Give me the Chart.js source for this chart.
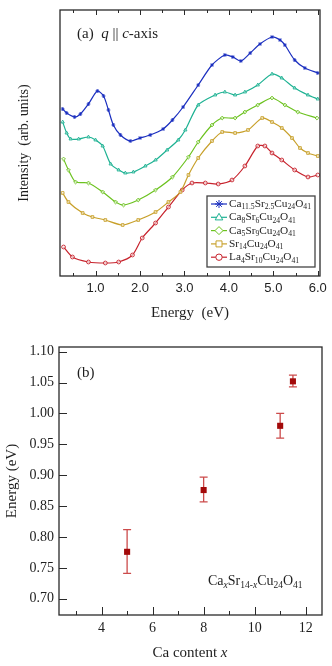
<!DOCTYPE html>
<html>
<head>
<meta charset="utf-8">
<script src="https://cdn.jsdelivr.net/npm/chart.js@4.4.0/dist/chart.umd.min.js"></script>
<style>
  html, body { margin: 0; padding: 0; background: #fff; }
  #wrapA { position: absolute; left: 0; top: 0; width: 332px; height: 330px; }
  #wrapB { position: absolute; left: 0; top: 330px; width: 332px; height: 336px; }
</style>
</head>
<body>
<div id="wrapA"><canvas id="chartA" width="332" height="330"></canvas></div>
<div id="wrapB"><canvas id="chartB" width="332" height="336"></canvas></div>
<script>
// ---- panel (a): spectra, q || c-axis ----
const energyCa115    = [0.26,0.35,0.53,0.66,0.84,1.04,1.18,1.29,1.40,1.56,1.78,2.00,2.23,2.52,2.73,2.97,3.31,3.62,3.91,4.09,4.27,4.48,4.70,4.97,5.15,5.26,5.48,5.71,6.00];
const intensityCa115 = [1.67,1.63,1.59,1.62,1.72,1.85,1.80,1.66,1.51,1.41,1.35,1.38,1.41,1.47,1.56,1.69,1.91,2.11,2.21,2.19,2.15,2.23,2.32,2.39,2.36,2.31,2.16,2.08,2.03];

const energyCa8    = [0.26,0.35,0.44,0.62,0.84,1.00,1.16,1.34,1.52,1.67,1.85,2.12,2.35,2.61,2.86,3.02,3.31,3.69,3.91,4.14,4.36,4.65,4.97,5.19,5.48,5.78,6.00];
const intensityCa8 = [1.54,1.43,1.37,1.37,1.39,1.36,1.30,1.12,1.06,1.03,1.04,1.10,1.16,1.26,1.36,1.46,1.71,1.81,1.84,1.81,1.84,1.91,2.02,1.98,1.88,1.81,1.77];

const energyCa5    = [0.28,0.39,0.55,0.84,1.16,1.45,1.63,1.96,2.35,2.73,3.09,3.31,3.62,3.85,4.14,4.36,4.65,4.97,5.26,5.55,5.98];
const intensityCa5 = [1.17,1.06,0.94,0.93,0.84,0.74,0.71,0.76,0.86,0.99,1.19,1.34,1.51,1.58,1.58,1.64,1.71,1.78,1.71,1.64,1.58];

const energySr14    = [0.26,0.39,0.71,0.93,1.22,1.61,1.96,2.35,2.64,2.91,3.09,3.31,3.62,3.85,4.14,4.43,4.75,4.97,5.19,5.42,5.60,5.78,6.00];
const intensitySr14 = [0.83,0.74,0.63,0.59,0.56,0.51,0.56,0.64,0.74,0.84,1.01,1.18,1.35,1.44,1.43,1.46,1.58,1.54,1.48,1.38,1.28,1.23,1.20];

const energyLa4    = [0.28,0.48,0.84,1.22,1.52,1.83,2.05,2.35,2.64,2.95,3.17,3.47,3.76,4.07,4.36,4.65,4.81,4.97,5.19,5.48,5.78,6.00];
const intensityLa4 = [0.29,0.19,0.14,0.13,0.14,0.21,0.38,0.53,0.69,0.86,0.93,0.93,0.92,0.96,1.10,1.30,1.30,1.23,1.16,1.06,0.99,1.01];

const seriesLabels  = ['Ca_{11.5}Sr_{2.5}Cu_{24}O_{41}', 'Ca_{8}Sr_{6}Cu_{24}O_{41}', 'Ca_{5}Sr_{9}Cu_{24}O_{41}', 'Sr_{14}Cu_{24}O_{41}', 'La_{4}Sr_{10}Cu_{24}O_{41}'];
const seriesColors  = ['#1b2fbf', '#1eb293', '#6cc21f', '#c8a02a', '#c7232d'];
const seriesMarkers = ['star', 'triangle', 'rectRot', 'rect', 'circle'];

const energyTicks      = [1, 2, 3, 4, 5, 6];
const energyMinorTicks = [0.5, 1.5, 2.5, 3.5, 4.5, 5.5];

// ---- panel (b): peak energy vs Ca content ----
const caContent   = [5, 8, 11, 11.5];
const peakEnergy  = [0.776, 0.876, 0.980, 1.052];
const peakErrLow  = [0.741, 0.857, 0.960, 1.043];
const peakErrHigh = [0.812, 0.897, 1.000, 1.062];

const caTicks      = [4, 6, 8, 10, 12];
const caMinorTicks = [3, 5, 7, 9, 11];
const peakTicks    = [0.70, 0.75, 0.80, 0.85, 0.90, 0.95, 1.00, 1.05, 1.10];

const SERIF = "'Liberation Serif', 'DejaVu Serif', serif";
const SANS = "'Liberation Sans', Arial, sans-serif";
const INK = '#1e1e1e';

function partFont(st, size) {
    const sub = st.indexOf('s') >= 0;
    const it = st.indexOf('i') >= 0;
    return (it ? 'italic ' : '') + (sub ? size * 0.68 : size) + 'px ' + SERIF;
}

// rich text: parts = [[text, style]], style has 'i' for italic, 's' for subscript
function drawRich(ctx, x, y, parts, size, center) {
    ctx.textBaseline = 'middle';
    ctx.textAlign = 'left';
    ctx.fillStyle = INK;
    if (center) {
        let w = 0;
        parts.forEach(([t, st]) => { ctx.font = partFont(st, size); w += ctx.measureText(t).width; });
        x -= w / 2;
    }
    parts.forEach(([t, st]) => {
        ctx.font = partFont(st, size);
        ctx.fillText(t, x, y + (st.indexOf('s') >= 0 ? size * 0.3 : 0));
        x += ctx.measureText(t).width;
    });
    return x;
}

function parseFormula(str) {
    return str.split(/(_\{[^}]*\})/).filter(s => s.length).map(s =>
        s.startsWith('_{') ? [s.slice(2, -1), 's'] : [s, '']);
}

function drawMarker(ctx, style, x, y, r) {
    ctx.beginPath();
    if (style === 'star') {
        for (let k = 0; k < 4; k++) {
            const a = k * Math.PI / 4;
            ctx.moveTo(x - r * Math.cos(a), y - r * Math.sin(a));
            ctx.lineTo(x + r * Math.cos(a), y + r * Math.sin(a));
        }
        ctx.stroke();
        return;
    }
    if (style === 'triangle') {
        ctx.moveTo(x, y - r); ctx.lineTo(x + r * 0.95, y + r * 0.65); ctx.lineTo(x - r * 0.95, y + r * 0.65); ctx.closePath();
    } else if (style === 'rectRot') {
        ctx.moveTo(x, y - r); ctx.lineTo(x + r, y); ctx.lineTo(x, y + r); ctx.lineTo(x - r, y); ctx.closePath();
    } else if (style === 'rect') {
        const s = r * 0.75; ctx.rect(x - s, y - s, 2 * s, 2 * s);
    } else {
        ctx.arc(x, y, r * 0.8, 0, Math.PI * 2);
    }
    ctx.fill();
    ctx.stroke();
}

// frame round the plot area plus inward tick marks
const frameTicks = {
    id: 'frameTicks',
    afterDraw(chart, args, opts) {
        const { ctx, chartArea: a, scales } = chart;
        ctx.save();
        ctx.strokeStyle = '#2a2a2a';
        ctx.lineWidth = 1.3;
        ctx.strokeRect(a.left, a.top, a.right - a.left, a.bottom - a.top);
        ctx.lineWidth = 1;
        ctx.beginPath();
        const xTick = (vals, len) => vals.forEach(v => {
            const px = Math.round(scales.x.getPixelForValue(v)) + 0.5;
            ctx.moveTo(px, a.bottom); ctx.lineTo(px, a.bottom - len);
            if (opts.top) { ctx.moveTo(px, a.top); ctx.lineTo(px, a.top + len); }
        });
        xTick(opts.xMajor || [], opts.majorLen);
        xTick(opts.xMinor || [], opts.minorLen);
        (opts.yMajor || []).forEach(v => {
            const py = Math.round(scales.y.getPixelForValue(v)) + 0.5;
            ctx.moveTo(a.left, py); ctx.lineTo(a.left + opts.majorLen, py);
        });
        ctx.stroke();
        ctx.restore();
    }
};

// boxed legend with subscripted formulas (panel a)
const legendBox = {
    id: 'legendBox',
    afterDraw(chart, args, opts) {
        if (!opts.show) return;
        const { ctx } = chart;
        ctx.save();
        ctx.fillStyle = '#fff';
        ctx.fillRect(opts.x, opts.y, opts.w, opts.h);
        ctx.strokeStyle = '#444';
        ctx.lineWidth = 1.3;
        ctx.strokeRect(opts.x, opts.y, opts.w, opts.h);
        chart.data.datasets.forEach((ds, i) => {
            const y = opts.y + 8 + i * opts.row;
            ctx.strokeStyle = ds.borderColor;
            ctx.lineWidth = 1.2;
            ctx.beginPath();
            ctx.moveTo(opts.x + 4, y); ctx.lineTo(opts.x + 20, y);
            ctx.stroke();
            ctx.fillStyle = '#fff';
            ctx.lineWidth = 1;
            drawMarker(ctx, ds.pointStyle, opts.x + 12, y, 4);
            drawRich(ctx, opts.x + 22, y, parseFormula(ds.label), 11.3);
        });
        ctx.restore();
    }
};

// panel labels, formula annotations and rich axis titles
const textMarks = {
    id: 'textMarks',
    afterDraw(chart, args, opts) {
        const { ctx } = chart;
        ctx.save();
        (opts.items || []).forEach(it => drawRich(ctx, it.x, it.y, it.parts, it.size, it.center));
        ctx.restore();
    }
};

// error bars drawn through the scales (panel b)
const errorBars = {
    id: 'errorBars',
    beforeDatasetsDraw(chart, args, opts) {
        if (!opts.low) return;
        const { ctx, scales } = chart;
        ctx.save();
        ctx.strokeStyle = opts.color;
        ctx.lineWidth = 1.3;
        ctx.beginPath();
        opts.xs.forEach((xv, i) => {
            const px = scales.x.getPixelForValue(xv);
            const lo = scales.y.getPixelForValue(opts.low[i]);
            const hi = scales.y.getPixelForValue(opts.high[i]);
            ctx.moveTo(px, lo); ctx.lineTo(px, hi);
            ctx.moveTo(px - opts.cap, lo); ctx.lineTo(px + opts.cap, lo);
            ctx.moveTo(px - opts.cap, hi); ctx.lineTo(px + opts.cap, hi);
        });
        ctx.stroke();
        ctx.restore();
    }
};

const spectra = [
    [energyCa115, intensityCa115],
    [energyCa8, intensityCa8],
    [energyCa5, intensityCa5],
    [energySr14, intensitySr14],
    [energyLa4, intensityLa4]
];

new Chart(document.getElementById('chartA'), {
    type: 'line',
    data: {
        datasets: spectra.map((s, i) => ({
            label: seriesLabels[i],
            data: s[0].map((e, k) => ({ x: e, y: s[1][k] })),
            borderColor: seriesColors[i],
            borderWidth: 1.2,
            pointStyle: seriesMarkers[i],
            pointRadius: 1.9,
            pointBorderWidth: 0.9,
            pointBorderColor: seriesColors[i],
            pointBackgroundColor: 'rgba(255,255,255,0.55)',
            tension: 0.25
        }))
    },
    options: {
        responsive: false,
        animation: false,
        layout: { padding: { top: 10, right: 12, left: 0, bottom: 0 } },
        plugins: {
            legend: { display: false },
            tooltip: { enabled: false },
            frameTicks: { xMajor: energyTicks, xMinor: energyMinorTicks, majorLen: 5, minorLen: 3, top: true },
            legendBox: { show: true, x: 207, y: 196, w: 108, h: 71, row: 13.3 },
            textMarks: {
                items: [
                    { x: 77, y: 34, size: 15, parts: [['(a)', ''], ['  ', ''], ['q', 'i'], [' || ', ''], ['c', 'i'], ['-axis', '']] }
                ]
            }
        },
        scales: {
            x: {
                type: 'linear', min: 0.2, max: 6.05,
                afterBuildTicks: s => { s.ticks = energyTicks.map(v => ({ value: v })); },
                afterFit: s => { s.height = 54; },
                grid: { display: false, drawTicks: false },
                border: { display: false },
                ticks: { padding: 5, color: INK, font: { family: SANS, size: 13 }, callback: v => v.toFixed(1) },
                title: { display: true, text: 'Energy  (eV)', color: INK, font: { family: SERIF, size: 15 }, padding: { top: 0, bottom: 8 } }
            },
            y: {
                type: 'linear', min: 0, max: 2.66,
                afterFit: s => { s.width = 60; },
                grid: { display: false, drawTicks: false },
                border: { display: false },
                ticks: { display: false },
                title: { display: true, text: 'Intensity  (arb. units)', color: INK, font: { family: SERIF, size: 14 }, padding: { top: 16, bottom: 0 } }
            }
        }
    },
    plugins: [frameTicks, legendBox, textMarks]
});

new Chart(document.getElementById('chartB'), {
    type: 'scatter',
    data: {
        datasets: [{
            label: 'peak energy',
            data: caContent.map((c, i) => ({ x: c, y: peakEnergy[i] })),
            pointStyle: 'rect',
            pointRadius: 4.3,
            pointBackgroundColor: '#a30a0a',
            pointBorderColor: '#a30a0a',
            pointBorderWidth: 0
        }]
    },
    options: {
        responsive: false,
        animation: false,
        layout: { padding: { top: 17, right: 10, left: 0, bottom: 0 } },
        plugins: {
            legend: { display: false },
            tooltip: { enabled: false },
            frameTicks: { xMajor: caTicks, xMinor: caMinorTicks, yMajor: peakTicks, majorLen: 8, minorLen: 4, top: false },
            errorBars: { xs: caContent, low: peakErrLow, high: peakErrHigh, color: '#cc4b4b', cap: 4 },
            textMarks: {
                items: [
                    { x: 77, y: 43, size: 15, parts: [['(b)', '']] },
                    { x: 208, y: 251, size: 14, parts: [['Ca', ''], ['x', 'si'], ['Sr', ''], ['14-', 's'], ['x', 'si'], ['Cu', ''], ['24', 's'], ['O', ''], ['41', 's']] },
                    { x: 190, y: 323, size: 15, center: true, parts: [['Ca content ', ''], ['x', 'i']] }
                ]
            }
        },
        scales: {
            x: {
                type: 'linear', min: 2.33, max: 12.64,
                afterBuildTicks: s => { s.ticks = caTicks.map(v => ({ value: v })); },
                afterFit: s => { s.height = 51; },
                grid: { display: false, drawTicks: false },
                border: { display: false },
                ticks: { padding: 5, color: INK, font: { family: SERIF, size: 14 } },
                title: { display: false }
            },
            y: {
                type: 'linear', min: 0.6737, max: 1.1076,
                afterBuildTicks: s => { s.ticks = peakTicks.map(v => ({ value: v })); },
                afterFit: s => { s.width = 59; },
                grid: { display: false, drawTicks: false },
                border: { display: false },
                ticks: { padding: 5, color: INK, font: { family: SERIF, size: 14 }, callback: v => v.toFixed(2) },
                title: { display: true, text: 'Energy (eV)', color: INK, font: { family: SERIF, size: 15 }, padding: { top: 3, bottom: 0 } }
            }
        }
    },
    plugins: [frameTicks, errorBars, textMarks]
});
</script>
</body>
</html>
